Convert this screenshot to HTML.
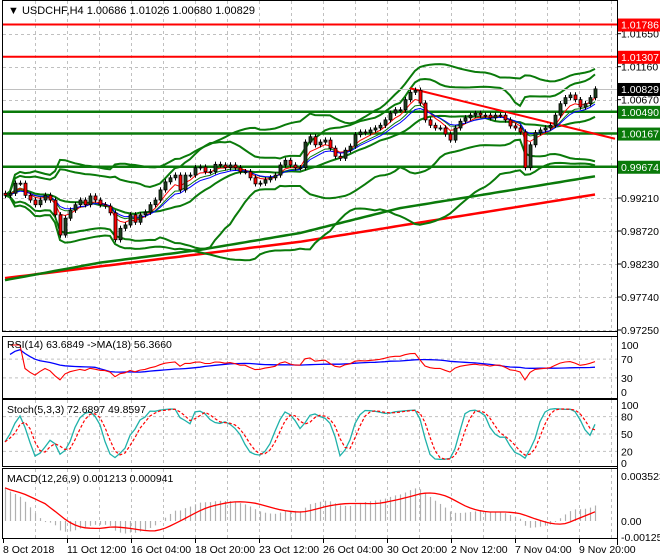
<!DOCTYPE html>
<html><head><meta charset="utf-8"><style>
html,body{margin:0;padding:0;background:#fff;}
svg{display:block;font-family:"Liberation Sans","DejaVu Sans",sans-serif;}
</style></head><body>
<svg id="c" width="660" height="560" viewBox="0 0 660 560" xmlns="http://www.w3.org/2000/svg">
<rect x="0" y="0" width="660" height="560" fill="#fff"/>
</svg>
<script>
// ---- data ----
const closes = [0.9925,0.9928,0.9943,0.9943,0.9925,0.9918,0.9911,0.9918,0.9925,0.9918,
0.9896,0.9866,0.9891,0.9903,0.9911,0.9918,0.9911,0.9924,0.9918,0.9911,
0.9909,0.9899,0.9859,0.9876,0.9881,0.9896,0.9885,0.9896,0.9900,0.9911,
0.9918,0.9933,0.9945,0.9951,0.9955,0.9933,0.9955,0.9955,0.9966,0.9967,
0.9960,0.9960,0.9971,0.9970,0.9966,0.9970,0.9966,0.9960,0.9960,0.9951,
0.9942,0.9943,0.9948,0.9951,0.9955,0.9970,0.9977,0.9970,0.9966,0.9966,
1.0004,1.0012,1.0000,1.0004,1.0007,0.9995,0.9983,0.9980,0.9992,0.9998,
1.0015,1.0019,1.0018,1.0022,1.0025,1.0029,1.0037,1.0047,1.0052,1.0052,
1.0067,1.0078,1.0081,1.0062,1.0037,1.0029,1.0025,1.0025,1.0016,1.0007,
1.0025,1.0035,1.0040,1.0044,1.0047,1.0044,1.0044,1.0040,1.0044,1.0044,
1.0037,1.0028,1.0025,1.0019,0.9966,1.0000,1.0018,1.0022,1.0025,1.0029,
1.0044,1.0061,1.0070,1.0074,1.0067,1.0056,1.0061,1.0070,1.0083];
const maSlowIdx = [0,19,39,59,79,99,117];
const maSlowVals = [0.9799,0.9825,0.9844,0.9869,0.9906,0.9930,0.9952];
const ma200Idx = [0,59,117];
const ma200Vals = [0.9802,0.9856,0.9925];
const levelsRed = [1.01786,1.01307];
const levelsGreen = [1.00490,1.00167,0.99674];
const trendIdx = [81,122];
const trendVals = [1.0084,1.0009];
const priceTicks = [1.01650,1.01160,1.00670,0.99210,0.98720,0.98230,0.97740,0.97250];
const timeLabels = ["8 Oct 2018","11 Oct 12:00","16 Oct 04:00","18 Oct 20:00","23 Oct 12:00","26 Oct 04:00","30 Oct 20:00","2 Nov 12:00","7 Nov 04:00","9 Nov 20:00"];
const lastPrice = 1.00829;

// ---- helpers ----
const svg = document.getElementById('c');
const NS = 'http://www.w3.org/2000/svg';
function mk(tag, attrs, parent){const e=document.createElementNS(NS,tag);for(const k in attrs)e.setAttribute(k,attrs[k]);(parent||svg).appendChild(e);return e;}
const L=3, R=617;
const X = i => 5 + i*5;
const PY = v => 198 - (v-0.9921)*6734;
function interp(idx, vals){const out=[];for(let i=0;i<closes.length;i++){let k=0;while(k<idx.length-2&&i>idx[k+1])k++;const t=(i-idx[k])/(idx[k+1]-idx[k]);out.push(vals[k]+(vals[k+1]-vals[k])*t);}return out;}
function poly(vals, yf, attrs, name, start){
  let d='';for(let i=start||0;i<vals.length;i++){if(vals[i]==null)continue;d+=(d?'L':'M')+X(i).toFixed(1)+' '+yf(vals[i]).toFixed(1);}
  const p=mk('path',Object.assign({d:d,fill:'none'},attrs));
  
  
  return p;
}
function sma(a,n){return a.map((v,i)=>{const s=Math.max(0,i-n+1);let t=0;for(let j=s;j<=i;j++)t+=a[j];return t/(i-s+1);});}
function ema(a,n){const k=2/(n+1);const o=[];a.forEach((v,i)=>o.push(i?o[i-1]+k*(v-o[i-1]):v));return o;}
function bb(n,dev,sign){const m=sma(closes,n);return closes.map((v,i)=>{const s=Math.max(0,i-n+1);let t=0;for(let j=s;j<=i;j++)t+=(closes[j]-m[i])**2;return m[i]+sign*dev*Math.sqrt(t/(i-s+1));});}
const opens = closes.map((c,i)=>i?closes[i-1]:c+0.0003);
const highs = closes.map((c,i)=>Math.max(c,opens[i])+0.0004);
const lows = closes.map((c,i)=>Math.min(c,opens[i])-0.0004);

// ---- panes ----
function pane(y1,y2,name){const r=mk('rect',{x:2.5,y:y1+0.5,width:R-2,height:y2-y1,fill:'none',stroke:'#000','stroke-width':1});
  
  }
function vgrid(y1,y2){for(let x=35;x<R;x+=32){const g=mk('line',{x1:x+.5,x2:x+.5,y1:y1,y2:y2,stroke:'#c0c0c0','stroke-dasharray':'3,3'});
  
  }}
vgrid(1,331);vgrid(337,398);vgrid(400,466);vgrid(469,538);
priceTicks.forEach(v=>{const y=Math.round(PY(v))+.5;const g=mk('line',{x1:L,x2:R,y1:y,y2:y,stroke:'#c0c0c0','stroke-dasharray':'3,3'});
  
  });

// long MAs
poly(interp(ma200Idx,ma200Vals),PY,{stroke:'#f00','stroke-width':2.5},'ma-200-line');
poly(interp(maSlowIdx,maSlowVals),PY,{stroke:'#0a7a0a','stroke-width':2.5},'ma-slow-line');
// bollinger bands
poly(bb(40,3,1),PY,{stroke:'#0a7a0a','stroke-width':2},'outer-band-upper');
poly(bb(40,3,-1),PY,{stroke:'#0a7a0a','stroke-width':2},'outer-band-lower');
poly(bb(20,2.3,1),PY,{stroke:'#0a7a0a','stroke-width':2},'inner-band-upper');
poly(bb(20,2.3,-1),PY,{stroke:'#0a7a0a','stroke-width':2},'inner-band-lower');
poly(sma(closes,16),PY,{stroke:'#0a7a0a','stroke-width':2},'band-middle');

// levels
levelsRed.forEach(v=>{const l=mk('line',{x1:L,x2:R,y1:PY(v),y2:PY(v),stroke:'#f00','stroke-width':2});
  
  });
levelsGreen.forEach(v=>{const l=mk('line',{x1:L,x2:R,y1:PY(v),y2:PY(v),stroke:'#0a7a0a','stroke-width':2.5});
  
  });
const cp=mk('line',{x1:L,x2:R,y1:Math.round(PY(lastPrice))+.5,y2:Math.round(PY(lastPrice))+.5,stroke:'#c0c0c0'});


const tl=mk('line',{x1:X(trendIdx[0]),y1:PY(trendVals[0]),x2:X(trendIdx[1]),y2:PY(trendVals[1]),stroke:'#f00','stroke-width':2});



// small MAs
poly(ema(closes,8),PY,{stroke:'#0a7a0a','stroke-width':1},'ma-8-line',1);
poly(ema(closes,5),PY,{stroke:'#f00','stroke-width':1},'ma-5-line',1);
poly(ema(closes,10),PY,{stroke:'#00f','stroke-width':1},'ma-10-line',1);

// candles
closes.forEach((c,i)=>{const x=X(i);const o=opens[i];
  const w=mk('line',{x1:x+.5,x2:x+.5,y1:PY(highs[i]),y2:PY(lows[i]),stroke:'#000'});
  
  
  const t=Math.min(PY(o),PY(c)),h=Math.max(1,Math.abs(PY(o)-PY(c)));
  const b=mk('rect',{x:x-1,y:t,width:3,height:h,fill:c>=o?'#1f3f1f':'#f00',stroke:'#000','stroke-width':0.8});
  
  });

// header
const hd=mk('text',{x:8,y:14,'font-size':11,fill:'#000'});hd.textContent='\u25BC USDCHF,H4  1.00686 1.01026 1.00680 1.00829';



// price axis
mk('line',{x1:R+.5,x2:R+.5,y1:0,y2:545,stroke:'#000'});
priceTicks.forEach(v=>{const y=PY(v);const tk=mk('line',{x1:R,x2:R+4,y1:y,y2:y,stroke:'#000'});
  
  
  const t=mk('text',{x:621,y:y+4,'font-size':10.5,fill:'#000'});t.textContent=v.toFixed(5);
  
  });
function tag(v,bg,fg){const y=PY(v);const r=mk('rect',{x:618,y:y-6,width:42,height:13,fill:bg});
  
  
  const t=mk('text',{x:621,y:y+4,'font-size':10.5,fill:fg});t.textContent=v.toFixed(5);
  
  }
levelsRed.forEach(v=>tag(v,'#f00','#fff'));
levelsGreen.forEach(v=>tag(v,'#0a7a0a','#fff'));
tag(lastPrice,'#000','#fff');

// ---- RSI ----
const rsi=[];let ag=0,al=0;
closes.forEach((c,i)=>{if(!i){rsi.push(null);return;}const d=c-closes[i-1];const g=Math.max(d,0),l=Math.max(-d,0);
  if(i<=14){ag=(ag*(i-1)+g)/i;al=(al*(i-1)+l)/i;}else{ag=(ag*13+g)/14;al=(al*13+l)/14;}
  rsi.push(al===0?100:100-100/(1+ag/al));});
const rsiMa=sma(rsi.map(v=>v==null?60:v),18);
const RY=v=>392-v*0.47;
[70,30].forEach(v=>{const g=mk('line',{x1:L,x2:R,y1:RY(v),y2:RY(v),stroke:'#c0c0c0','stroke-dasharray':'3,3'});
  
  });
poly(rsiMa,RY,{stroke:'#00f','stroke-width':1.3},'rsi-ma-line',1);
poly(rsi,RY,{stroke:'#f00','stroke-width':1.1},'rsi-line',1);
[100,70,30,0].forEach(v=>{const t=mk('text',{x:621,y:RY(v)+4,'font-size':10.5});t.textContent=v;
  
  });
const rt=mk('text',{x:7,y:348,'font-size':10.5});rt.textContent='RSI(14) 63.6849  ->MA(18) 56.3660';


pane(336,398,'rsi-pane');

// ---- Stochastic ----
const raw=closes.map((c,i)=>{const s=Math.max(0,i-4);let hh=-1,ll=9;for(let j=s;j<=i;j++){hh=Math.max(hh,highs[j]);ll=Math.min(ll,lows[j]);}return {c:c-ll,r:hh-ll};});
const stK=raw.map((v,i)=>{const s=Math.max(0,i-2);let a=0,b=0;for(let j=s;j<=i;j++){a+=raw[j].c;b+=raw[j].r;}return 100*a/b;});
const stD=sma(stK,3);
const SY=v=>463-v*0.58;
[80,50,20].forEach(v=>{const g=mk('line',{x1:L,x2:R,y1:SY(v),y2:SY(v),stroke:'#c0c0c0','stroke-dasharray':'3,3'});
  
  });
poly(stK,SY,{stroke:'#20b2aa','stroke-width':1.3},'stoch-main-line');
poly(stD,SY,{stroke:'#f00','stroke-width':1.2,'stroke-dasharray':'3,2'},'stoch-signal-line');
[100,80,50,20,0].forEach(v=>{const t=mk('text',{x:621,y:SY(v)+4,'font-size':10.5});t.textContent=v;
  
  });
const st=mk('text',{x:7,y:413,'font-size':10.5});st.textContent='Stoch(5,3,3) 72.6897 49.8597';


pane(399,466,'stoch-pane');

// ---- MACD ----
const e12=ema(closes,12),e26=ema(closes,26);
const macd=closes.map((c,i)=>e12[i]-e26[i]+0.0026*Math.max(0,1-i/8));
const sig=sma(macd,9);
const MY=v=>521-v*12773;
macd.forEach((v,i)=>{const b=mk('line',{x1:X(i)+.5,x2:X(i)+.5,y1:MY(0),y2:MY(v),stroke:'#b0b0b0','stroke-width':1.2});
  
  });
poly(sig,MY,{stroke:'#f00','stroke-width':1.3},'macd-signal-line');
[[0.003523,'0.003523'],[0,'0.00'],[-0.001255,'-0.001255']].forEach(p=>{const t=mk('text',{x:621,y:MY(p[0])+4,'font-size':10.5});t.textContent=p[1];
  
  });
const mt=mk('text',{x:7,y:482,'font-size':10.5});mt.textContent='MACD(12,26,9) 0.001213 0.000941';


pane(468,538,'macd-pane');

// main pane border
pane(0,331,'price-pane');

// ---- time axis ----
timeLabels.forEach((s,i)=>{const x=3+i*64;const tk=mk('line',{x1:x+.5,x2:x+.5,y1:539,y2:543,stroke:'#000'});
  
  
  const t=mk('text',{x:x,y:553,'font-size':10.5});t.textContent=s;
  
  });
</script>
</body></html>
